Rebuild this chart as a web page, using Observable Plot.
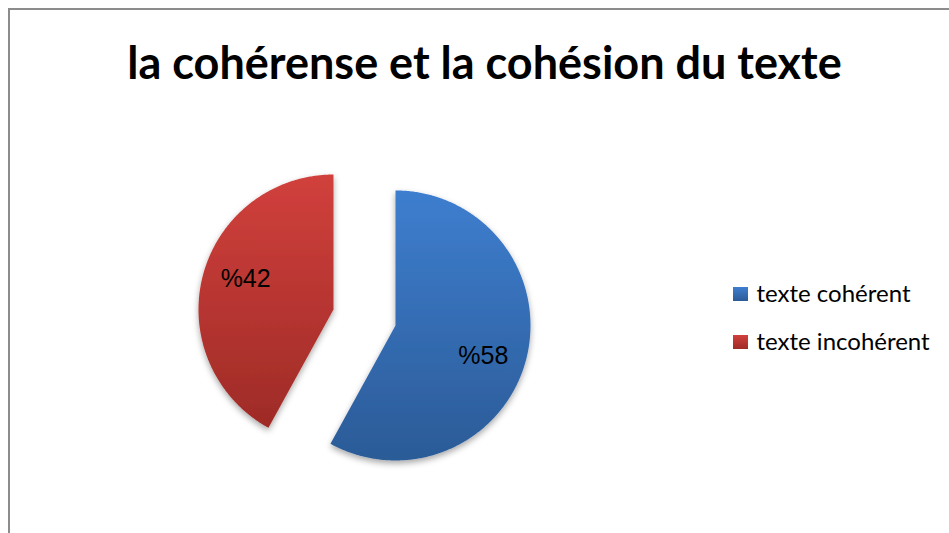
<!DOCTYPE html>
<html>
<head>
<meta charset="utf-8">
<script src="https://cdn.jsdelivr.net/npm/d3@7"></script>
<script src="https://cdn.jsdelivr.net/npm/@observablehq/plot@0.6"></script>
<style>
  html, body { margin: 0; padding: 0; background: #fff; }
  #chart { position: relative; width: 949px; height: 533px; overflow: hidden; }
  #frame { position: absolute; left: 8px; top: 8px; width: 960px; height: 600px; border-left: 2px solid #8c8c8c; border-top: 2px solid #8c8c8c; box-sizing: border-box; pointer-events: none; }
</style>
</head>
<body>
<div id="chart"><div id="frame"></div></div>
<script>
// ---- data ----
const title = "la cohérense et la cohésion du texte";
const categories = ["texte cohérent", "texte incohérent"];
const values = [58, 42];
const labels = ["%58", "%42"];
const colorsTop = ["#3e7ecf", "#d1403c"];
const colorsBottom = ["#2b5b97", "#9e2b27"];

// ---- layout ----
const W = 949, H = 533;
const cx = 364, cy = 317, R = 135, explode = 32;

const arcs = d3.pie().sort(null).value(d => d)(values);

const slices = arcs.map((a, i) => {
  const mid = (a.startAngle + a.endAngle) / 2;
  const ox = cx + explode * Math.sin(mid);
  const oy = cy - explode * Math.cos(mid);
  const pts = [{x: ox, y: oy}];
  const n = Math.ceil((a.endAngle - a.startAngle) / (Math.PI / 360));
  for (let k = 0; k <= n; k++) {
    const t = a.startAngle + (a.endAngle - a.startAngle) * k / n;
    pts.push({x: ox + R * Math.sin(t), y: oy - R * Math.cos(t)});
  }
  const la = mid + 5 * Math.PI / 180;
  const label = {x: ox + 0.69 * R * Math.sin(la), y: oy - 0.69 * R * Math.cos(la), text: labels[i]};
  return {pts, label, i};
});

const legend = categories.map((c, i) => ({c, i}));

const marks = [];
slices.forEach(s => {
  marks.push(Plot.line(s.pts, {x: "x", y: "y", fill: `url(#grad${s.i})`, stroke: "none", curve: "linear"}));
});
marks.push(Plot.text(slices.map(s => s.label), {x: "x", y: "y", text: "text", fontSize: 25, fontFamily: "Liberation Sans, Arial, sans-serif", fill: "#000"}));
marks.push(Plot.text([title], {x: 484, y: 64, text: d => d, fontSize: 45, fontWeight: "bold", fontFamily: "Lato, sans-serif", fill: "#000"}));
legend.forEach(l => {
  marks.push(Plot.rect([l], {x1: 733, x2: 748, y1: 287 + l.i * 48, y2: 301 + l.i * 48, fill: `url(#grad${l.i})`}));
});
marks.push(Plot.text(legend, {x: 756, y: d => 294 + d.i * 48, text: "c", textAnchor: "start", fontSize: 24, fontFamily: "Lato, sans-serif", fill: "#000"}));

const plot = Plot.plot({
  width: W, height: H,
  margin: 0,
  x: {domain: [0, W], range: [0, W], axis: null},
  y: {domain: [0, H], range: [0, H], axis: null},
  style: {background: "transparent", overflow: "visible"},
  marks
});

// gradients & shadow
const svg = d3.select(plot);
const defs = svg.insert("defs", ":first-child");
colorsTop.forEach((c, i) => {
  const g = defs.append("linearGradient").attr("id", `grad${i}`).attr("x1", 0).attr("y1", 0).attr("x2", 0).attr("y2", 1);
  g.append("stop").attr("offset", "0%").attr("stop-color", c);
  g.append("stop").attr("offset", "100%").attr("stop-color", colorsBottom[i]);
});
const f = defs.append("filter").attr("id", "shadow").attr("x", "-20%").attr("y", "-20%").attr("width", "140%").attr("height", "140%");
f.append("feDropShadow").attr("dx", 0).attr("dy", 3).attr("stdDeviation", 3).attr("flood-color", "#000").attr("flood-opacity", 0.35);
svg.selectAll("g[aria-label='line']").attr("filter", "url(#shadow)");

plot.style.position = "absolute";
plot.style.left = "0px";
plot.style.top = "0px";
document.getElementById("chart").appendChild(plot);
</script>
</body>
</html>
